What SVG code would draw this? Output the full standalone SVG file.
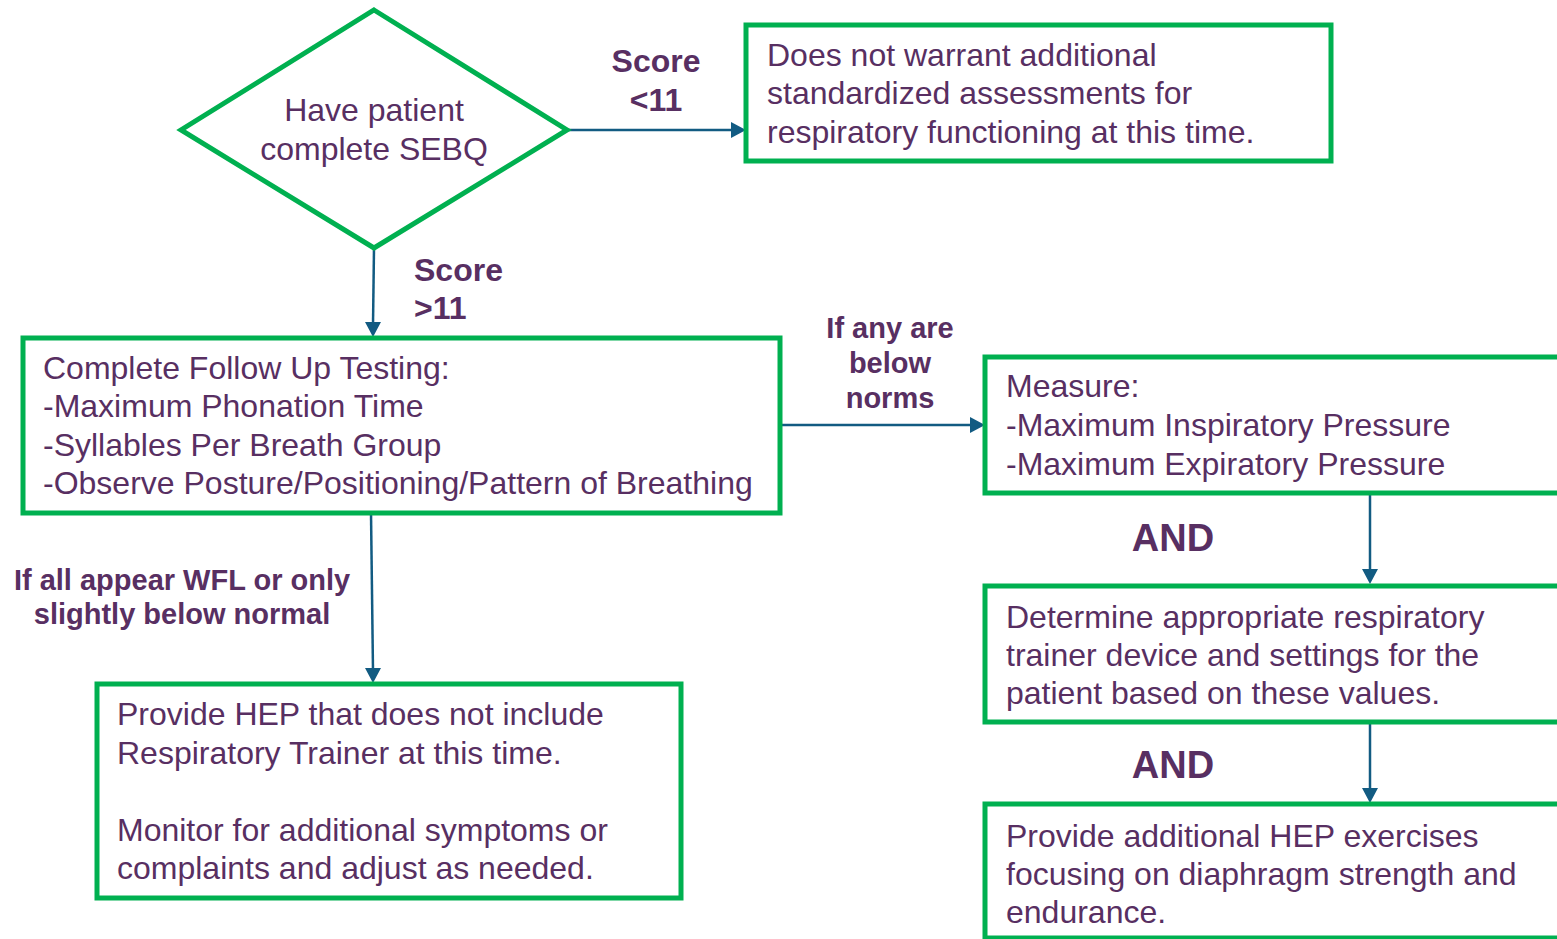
<svg xmlns="http://www.w3.org/2000/svg" width="1557" height="939" viewBox="0 0 1557 939">
<style>
.box{fill:#fff;stroke:#00B050;stroke-width:5}
.t{font-family:"Liberation Sans",Arial,sans-serif;font-size:32px;fill:#582F62}
.b{font-family:"Liberation Sans",Arial,sans-serif;font-weight:bold;font-size:32px;fill:#582F62}
.s{font-size:29px}
.a{font-size:38px}
.ln{stroke:#125B82;stroke-width:2.5;fill:none}
.hd{fill:#125B82}
</style>
<rect width="1557" height="939" fill="#fff"/>
<g id="connectors">
<line class="ln" x1="567" y1="130" x2="733" y2="130"/>
<path class="hd" d="M731,122 L746,130 L731,138 z"/>
<line class="ln" x1="374" y1="248" x2="373" y2="325"/>
<path class="hd" d="M365,322 L373,337 L381,322 z"/>
<line class="ln" x1="780" y1="425" x2="972" y2="425"/>
<path class="hd" d="M970,417 L985,425 L970,433 z"/>
<line class="ln" x1="371" y1="513" x2="373" y2="671"/>
<path class="hd" d="M365,668 L373,683 L381,668 z"/>
<line class="ln" x1="1370" y1="493" x2="1370" y2="572"/>
<path class="hd" d="M1362,569 L1370,584 L1378,569 z"/>
<line class="ln" x1="1370" y1="722" x2="1370" y2="790"/>
<path class="hd" d="M1362,788 L1370,803 L1378,788 z"/>
</g>
<g id="labels">
<text class="b" x="656" y="72" text-anchor="middle">Score</text>
<text class="b" x="656" y="111" text-anchor="middle">&lt;11</text>
<text class="b" x="414" y="281">Score</text>
<text class="b" x="414" y="319">&gt;11</text>
<text class="b s" x="890" y="338" text-anchor="middle">If any are</text>
<text class="b s" x="890" y="373" text-anchor="middle">below</text>
<text class="b s" x="890" y="408" text-anchor="middle">norms</text>
<text class="b s" x="182" y="590" text-anchor="middle">If all appear WFL or only</text>
<text class="b s" x="182" y="624" text-anchor="middle">slightly below normal</text>
<text class="b a" x="1173" y="551" text-anchor="middle">AND</text>
<text class="b a" x="1173" y="778" text-anchor="middle">AND</text>
</g>
<g id="start">
<polygon class="box" points="374,10 567,130 374,248 181,130"/>
<text class="t" x="374" y="121" text-anchor="middle">Have patient</text>
<text class="t" x="374" y="160" text-anchor="middle">complete SEBQ</text>
</g>
<g id="no-assess">
<rect class="box" x="746" y="25" width="585" height="136"/>
<text class="t" x="767" y="66">Does not warrant additional</text>
<text class="t" x="767" y="104">standardized assessments for</text>
<text class="t" x="767" y="143">respiratory functioning at this time.</text>
</g>
<g id="follow-up">
<rect class="box" x="23" y="338" width="757" height="175"/>
<text class="t" x="43" y="379">Complete Follow Up Testing:</text>
<text class="t" x="43" y="417">-Maximum Phonation Time</text>
<text class="t" x="43" y="456">-Syllables Per Breath Group</text>
<text class="t" x="43" y="494">-Observe Posture/Positioning/Pattern of Breathing</text>
</g>
<g id="measure">
<rect class="box" x="985" y="357" width="600" height="136"/>
<text class="t" x="1006" y="397">Measure:</text>
<text class="t" x="1006" y="436">-Maximum Inspiratory Pressure</text>
<text class="t" x="1006" y="475">-Maximum Expiratory Pressure</text>
</g>
<g id="trainer">
<rect class="box" x="985" y="586" width="600" height="136"/>
<text class="t" x="1006" y="628">Determine appropriate respiratory</text>
<text class="t" x="1006" y="666">trainer device and settings for the</text>
<text class="t" x="1006" y="704">patient based on these values.</text>
</g>
<g id="hep-extra">
<rect class="box" x="985" y="804" width="600" height="134"/>
<text class="t" x="1006" y="847">Provide additional HEP exercises</text>
<text class="t" x="1006" y="885">focusing on diaphragm strength and</text>
<text class="t" x="1006" y="923">endurance.</text>
</g>
<g id="hep-basic">
<rect class="box" x="97" y="684" width="584" height="214"/>
<text class="t" x="117" y="725">Provide HEP that does not include</text>
<text class="t" x="117" y="764">Respiratory Trainer at this time.</text>
<text class="t" x="117" y="841">Monitor for additional symptoms or</text>
<text class="t" x="117" y="879">complaints and adjust as needed.</text>
</g>
</svg>
